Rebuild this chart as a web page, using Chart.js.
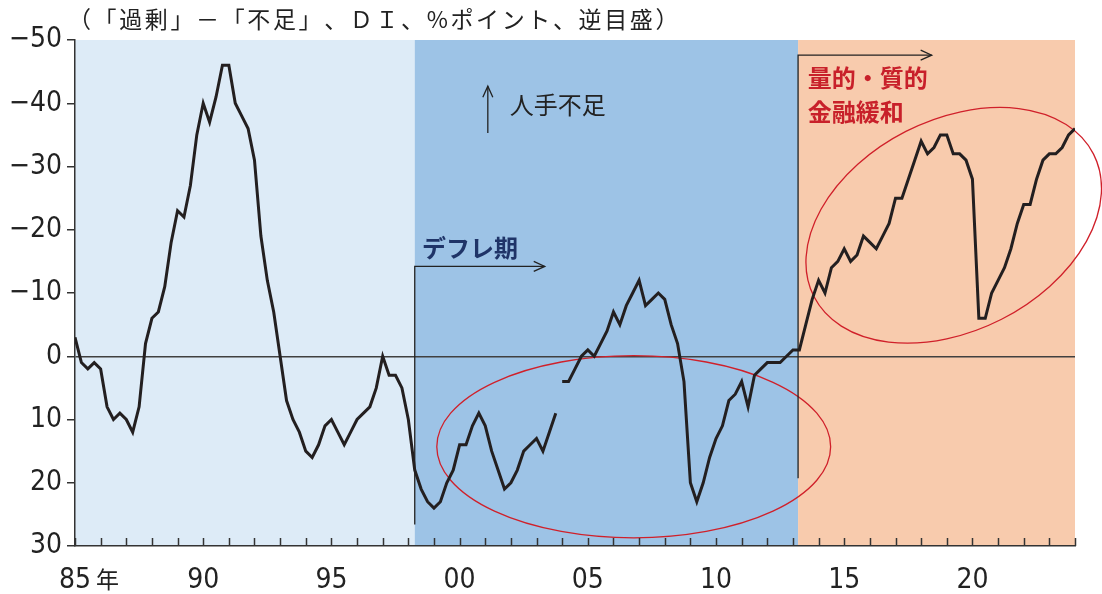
<!DOCTYPE html>
<html>
<head>
<meta charset="utf-8">
<script src="https://cdn.jsdelivr.net/npm/chart.js@4.4.1/dist/chart.umd.min.js"></script>
<style>
  html, body { margin: 0; padding: 0; background: #ffffff; }
  #wrap { width: 1102px; height: 594px; position: relative; }
</style>
</head>
<body>
<div id="wrap"><canvas id="chart" width="1102" height="594"></canvas></div>
<script>
// 雇用人員判断DI（「過剰」－「不足」、%ポイント）四半期
const startYear = 1985;                 // 1985年1-3月期
// 旧基準（1985Q1〜2003Q4）
const oldSeries = [
  -3, 1, 2, 1, 2, 8, 10, 9, 10, 12, 8, -2,
  -6, -7, -11, -18, -23, -22, -27, -35, -40, -37, -41, -46,
  -46, -40, -38, -36, -31, -19, -12, -7, 0, 7, 10, 12,
  15, 16, 14, 11, 10, 12, 14, 12, 10, 9, 8, 5,
  0, 3, 3, 5, 10, 18, 21, 23, 24, 23, 20, 18,
  14, 14, 11, 9, 11, 15, 18, 21, 20, 18, 15, 14,
  13, 15, 12, 9
];
// 新基準（2004Q1〜2024Q1）
const newSeriesStart = 2004;
const newSeries = [
  4, 4, 2, 0, -1, 0, -2, -4, -7, -5, -8, -10,
  -12, -8, -9, -10, -9, -5, -2, 4, 20, 23, 20, 16,
  13, 11, 7, 6, 4, 8, 3, 2, 1, 1, 1, 0,
  -1, -1, -5, -9, -12, -10, -14, -15, -17, -15, -16, -19,
  -18, -17, -19, -21, -25, -25, -28, -31, -34, -32, -33, -35,
  -35, -32, -32, -31, -28, -6, -6, -10, -12, -14, -17, -21,
  -24, -24, -28, -31, -32, -32, -33, -35, -36
];

const yTicks = [-50, -40, -30, -20, -10, 0, 10, 20, 30];
const xTickYears = Array.from({ length: 40 }, (_, k) => 1985 + k);
const xLabelYears = [1985, 1990, 1995, 2000, 2005, 2010, 2015, 2020];
const xLabelTexts = ['85', '90', '95', '00', '05', '10', '15', '20'];

// 期間の色分け
const periodFrom = [1985, 1998.25, 2013.2];
const periodTo = [1998.25, 2013.2, 2024];
const periodColors = ['#DDEBF7', '#9DC3E6', '#F8CBAD'];

const unitTitle = '（「過剰」－「不足」、ＤＩ、%ポイント、逆目盛）';

const toPoints = (arr, y0) => arr.map((v, i) => ({ x: y0 + i / 4, y: v }));

const narrow = '"Liberation Sans Narrow", "Arial Narrow", "DejaVu Sans Condensed", sans-serif';
const jp = '"Noto Sans CJK JP", "Noto Sans", sans-serif';

function arrowHead(ctx, x, y, dir) {
  const L = 11, W = 5;
  ctx.beginPath();
  if (dir === 'right') {
    ctx.moveTo(x - L, y - W); ctx.lineTo(x, y); ctx.lineTo(x - L, y + W);
  } else {
    ctx.moveTo(x - W, y + L); ctx.lineTo(x, y); ctx.lineTo(x + W, y + L);
  }
  ctx.stroke();
}

const decor = {
  id: 'decor',
  beforeDraw(chart) {
    const { ctx, chartArea: a, scales: { x } } = chart;
    ctx.save();
    periodColors.forEach((c, k) => {
      const x0 = x.getPixelForValue(periodFrom[k]);
      const x1 = x.getPixelForValue(periodTo[k]);
      ctx.fillStyle = c;
      ctx.fillRect(x0, a.top, x1 - x0, a.bottom - a.top);
    });
    ctx.restore();
  },
  beforeDatasetsDraw(chart) {
    const { ctx, scales: { x, y } } = chart;
    const pxYear = x.getPixelForValue(2001) - x.getPixelForValue(2000);
    const pxUnit = Math.abs(y.getPixelForValue(10) - y.getPixelForValue(0)) / 10;
    ctx.save();
    // 楕円
    ctx.strokeStyle = '#D0202A';
    ctx.lineWidth = 1.3;
    ctx.beginPath();
    ctx.ellipse(x.getPixelForValue(2006.79), y.getPixelForValue(14.3),
      7.68 * pxYear, 14.4 * pxUnit, 0, 0, Math.PI * 2);
    ctx.stroke();
    ctx.beginPath();
    ctx.ellipse(x.getPixelForValue(2019.27), y.getPixelForValue(-20.7),
      6.12 * pxYear, 4.11 * pxYear, -27 * Math.PI / 180, 0, Math.PI * 2);
    ctx.stroke();

    // 期間の矢印
    ctx.strokeStyle = '#222';
    ctx.lineWidth = 1.3;
    const events = [
      { at: 1998.25, low: 26.6, high: -14.2, to: 2003.32 },
      { at: 2013.2, low: 19.3, high: -47.6, to: 2018.41 }
    ];
    events.forEach(e => {
      const px = x.getPixelForValue(e.at);
      const yl = y.getPixelForValue(e.low), yh = y.getPixelForValue(e.high);
      const pt = x.getPixelForValue(e.to);
      ctx.beginPath();
      ctx.moveTo(px, yl); ctx.lineTo(px, yh); ctx.lineTo(pt, yh);
      ctx.stroke();
      arrowHead(ctx, pt, yh, 'right');
    });
    // 人手不足の矢印
    const ax = x.getPixelForValue(2001.1);
    ctx.beginPath();
    ctx.moveTo(ax, y.getPixelForValue(-35.3));
    ctx.lineTo(ax, y.getPixelForValue(-42.7));
    ctx.stroke();
    arrowHead(ctx, ax, y.getPixelForValue(-42.7), 'up');
    ctx.restore();
  },
  afterDatasetsDraw(chart) {
    const { ctx, scales: { x, y } } = chart;
    ctx.save();
    ctx.textBaseline = 'middle';
    ctx.textAlign = 'left';
    ctx.fillStyle = '#1F3468';
    ctx.font = 'bold 24px ' + jp;
    ctx.fillText('デフレ期', x.getPixelForValue(1998.53), y.getPixelForValue(-17.2));
    ctx.fillStyle = '#C8202A';
    ctx.fillText('量的・質的', x.getPixelForValue(2013.58), y.getPixelForValue(-44.0));
    ctx.fillText('金融緩和', x.getPixelForValue(2013.58), y.getPixelForValue(-38.6));
    ctx.fillStyle = '#222';
    ctx.font = '24px ' + jp;
    ctx.fillText('人手不足', x.getPixelForValue(2001.96), y.getPixelForValue(-39.7));
    ctx.restore();
  },
  afterDraw(chart) {
    const { ctx, chartArea: a, scales: { x } } = chart;
    ctx.save();
    // 内向きの目盛り
    ctx.strokeStyle = '#333';
    ctx.lineWidth = 1.5;
    xTickYears.forEach(yr => {
      const px = Math.round(x.getPixelForValue(yr)) + 0.5;
      ctx.beginPath();
      ctx.moveTo(px, a.bottom);
      ctx.lineTo(px, a.bottom - 8);
      ctx.stroke();
    });
    // 年ラベル
    ctx.fillStyle = '#222';
    ctx.textBaseline = 'alphabetic';
    ctx.textAlign = 'center';
    const ly = a.bottom + 42;
    xLabelYears.forEach((yr, k) => {
      const px = x.getPixelForValue(yr);
      ctx.font = '28px ' + narrow;
      ctx.fillText(xLabelTexts[k], px, ly);
      if (k === 0) {
        const w = ctx.measureText(xLabelTexts[k]).width;
        ctx.font = '23px ' + jp;
        ctx.textAlign = 'left';
        ctx.fillText('年', px + w / 2 + 5, ly);
        ctx.textAlign = 'center';
      }
    });
    // 単位
    ctx.font = '23px ' + jp;
    ctx.textAlign = 'left';
    ctx.textBaseline = 'middle';
    const chars = Array.from(unitTitle);
    const natural = ctx.measureText(unitTitle).width;
    const spacing = (587 - natural) / (chars.length - 1);
    let cx = 68;
    chars.forEach(ch => {
      ctx.fillText(ch, cx, 19);
      cx += ctx.measureText(ch).width + spacing;
    });
    ctx.restore();
  }
};

new Chart(document.getElementById('chart'), {
  type: 'line',
  data: {
    datasets: [
      {
        data: toPoints(oldSeries, startYear),
        borderColor: '#231F20', borderWidth: 3, pointRadius: 0, tension: 0, fill: false
      },
      {
        data: toPoints(newSeries, newSeriesStart),
        borderColor: '#231F20', borderWidth: 3, pointRadius: 0, tension: 0, fill: false
      }
    ]
  },
  options: {
    responsive: false,
    animation: false,
    devicePixelRatio: 1,
    layout: { padding: { top: 40, right: 27, left: 0, bottom: 0 } },
    plugins: { legend: { display: false }, tooltip: { enabled: false } },
    scales: {
      x: {
        type: 'linear', min: 1985, max: 2024,
        ticks: { display: false },
        grid: { display: true, drawOnChartArea: false, drawTicks: false },
        border: { display: true, color: '#333', width: 1.5 },
        afterFit: s => { s.height = 48; }
      },
      y: {
        min: -50, max: 30, reverse: true,
        afterBuildTicks: s => { s.ticks = yTicks.map(v => ({ value: v })); },
        ticks: {
          color: '#222', padding: 5,
          font: { family: narrow, size: 28 },
          callback: v => (v < 0 ? '−' + Math.abs(v) : String(v))
        },
        grid: {
          drawOnChartArea: true,
          color: c => (c.tick && c.tick.value === 0 ? '#404040' : 'rgba(0,0,0,0)'),
          lineWidth: 1.5,
          tickColor: '#333', tickLength: 8
        },
        border: { display: true, color: '#333', width: 1.5 },
        afterFit: s => { s.width = 75; }
      }
    }
  },
  plugins: [decor]
});
</script>
</body>
</html>
